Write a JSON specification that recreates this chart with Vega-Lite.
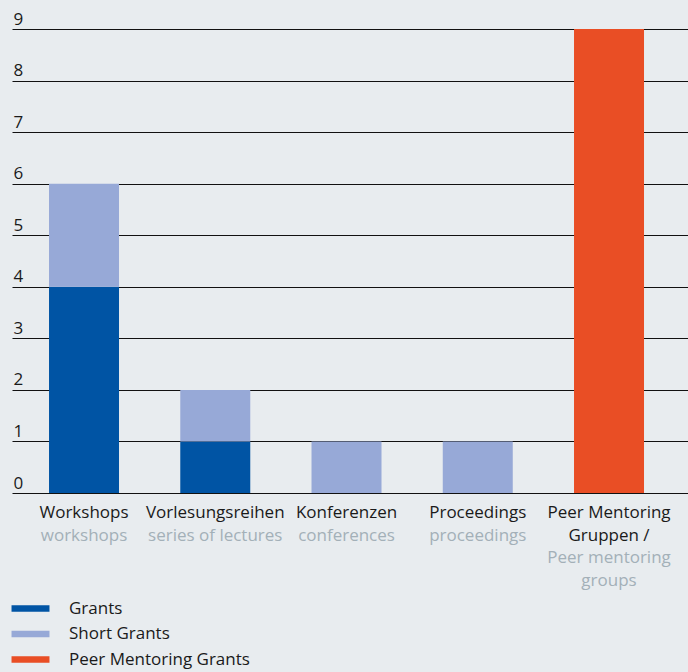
{
  "$schema": "https://vega.github.io/schema/vega-lite/v6.json",
  "width": 676,
  "height": 464,
  "autosize": {"type": "none"},
  "padding": {"left": 12, "top": 29, "right": 0, "bottom": 179},
  "background": "#e8ecef",
  "config": {
    "view": {"stroke": null},
    "font": "Open Sans",
    "axis": {"labelFont": "Open Sans", "labelFontSize": 17},
    "legend": {"labelFont": "Open Sans"}
  },
  "data": {
    "values": [
      {"de": "Workshops", "en": "workshops", "type": "Grants", "value": 4},
      {"de": "Workshops", "en": "workshops", "type": "Short Grants", "value": 2},
      {"de": "Vorlesungsreihen", "en": "series of lectures", "type": "Grants", "value": 1},
      {"de": "Vorlesungsreihen", "en": "series of lectures", "type": "Short Grants", "value": 1},
      {"de": "Konferenzen", "en": "conferences", "type": "Short Grants", "value": 1},
      {"de": "Proceedings", "en": "proceedings", "type": "Short Grants", "value": 1},
      {"de": "Peer Mentoring\nGruppen /", "en": "Peer mentoring\ngroups", "type": "Peer Mentoring Grants", "value": 9}
    ]
  },
  "layer": [
    {
      "mark": {"type": "bar"},
      "encoding": {
        "x": {
          "field": "de",
          "type": "nominal",
          "sort": null,
          "scale": {"paddingInner": 0.4667, "paddingOuter": 0.3086, "align": 0.457},
          "axis": {
            "orient": "bottom",
            "title": null,
            "ticks": false,
            "domain": false,
            "labelAngle": 0,
            "labelBaseline": "top",
            "labelPadding": 11,
            "labelLineHeight": 23,
            "labelColor": "#1a1a1a",
            "labelExpr": "split(datum.label, '\\n')"
          }
        },
        "y": {
          "field": "value",
          "type": "quantitative",
          "aggregate": "sum",
          "stack": "zero",
          "scale": {"domain": [0, 9], "nice": false},
          "axis": {
            "title": null,
            "values": [0, 1, 2, 3, 4, 5, 6, 7, 8, 9],
            "ticks": false,
            "domain": false,
            "grid": true,
            "gridColor": "#111111",
            "gridOpacity": 1,
            "gridWidth": 1,
            "labelAlign": "left",
            "labelBaseline": "alphabetic",
            "labelPadding": -1,
            "labelOffset": -5,
            "labelColor": "#1a1a1a",
            "labelFontSize": 17
          }
        },
        "order": {"field": "type", "sort": "ascending"},
        "color": {
          "field": "type",
          "type": "nominal",
          "scale": {
            "domain": ["Grants", "Short Grants", "Peer Mentoring Grants"],
            "range": ["#0054a4", "#97a9d7", "#e94e25"]
          },
          "legend": {
            "title": null,
            "orient": "none",
            "legendX": 10,
            "legendY": 571,
            "padding": 0,
            "symbolType": "M-4,-0.7H4V0.7H-4Z",
            "symbolSize": 90,
            "symbolStrokeWidth": 0,
            "symbolOpacity": 1,
            "labelFontSize": 17,
            "labelColor": "#1a1a1a",
            "labelOffset": 30,
            "labelLimit": 0,
            "rowPadding": 7.5
          }
        }
      }
    },
    {
      "mark": {"type": "bar", "opacity": 0},
      "encoding": {
        "x": {
          "field": "en",
          "type": "nominal",
          "sort": null,
          "scale": {"paddingInner": 0.4667, "paddingOuter": 0.3086, "align": 0.457},
          "axis": {
            "orient": "bottom",
            "title": null,
            "ticks": false,
            "domain": false,
            "grid": false,
            "labelAngle": 0,
            "labelBaseline": "top",
            "labelPadding": {"condition": {"test": "indexof(datum.value, 'groups') >= 0", "value": 56}, "value": 34},
            "labelLineHeight": 23,
            "labelColor": "#a3b0b8",
            "labelExpr": "split(datum.label, '\\n')"
          }
        },
        "y": {"field": "value", "type": "quantitative", "aggregate": "sum", "stack": "zero"}
      }
    }
  ],
  "resolve": {"scale": {"x": "independent"}, "axis": {"x": "independent"}}
}
